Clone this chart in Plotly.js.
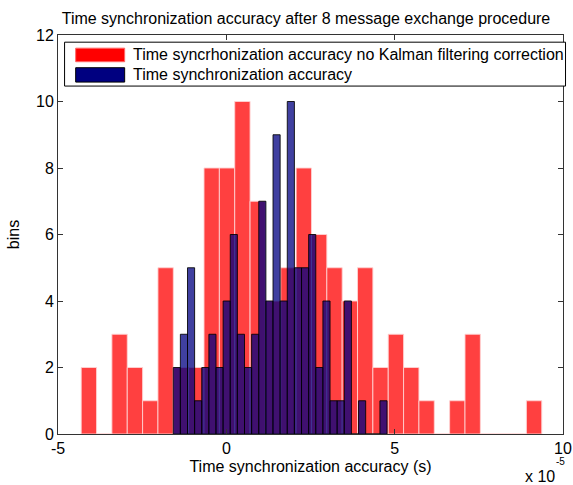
<!DOCTYPE html>
<html>
<head>
<meta charset="utf-8">
<script src="https://cdn.plot.ly/plotly-3.0.1.min.js"></script>
<style>html,body{margin:0;padding:0;background:#fff;}#chart{width:573px;height:485px;}</style>
</head>
<body>
<div id="chart"></div>
<script>
// Histogram counts (x in units of 1e-5 s)
var redCounts  = [2,0,3,2,1,5,2,2,8,8,10,7,4,5,8,6,5,4,5,2,3,2,1,0,1,3,0,0,0,1];
var blueCounts = [2,3,5,1,2,3,2,4,6,3,2,3,7,4,9,4,10,5,5,6,2,4,1,1,4,0,1,0,0,1];
var redStart = -4.311, redSize = 0.456;
var blueStart = -1.577, blueSize = 0.2117;
var xTicks = [-5, 0, 5, 10];
var yTicks = [0, 2, 4, 6, 8, 10, 12];
var redName = 'Time syncrhonization accuracy no Kalman filtering correction';
var blueName = 'Time synchronization accuracy';

function centers(start, size, n){ var a=[]; for(var i=0;i<n;i++) a.push(start+size*(i+0.5)); return a; }

var font = 'Arial, "Liberation Sans", sans-serif';
var traces = [
  {type:'bar', x:centers(redStart, redSize, redCounts.length), y:redCounts, width:redSize,
   marker:{color:'rgba(255,0,0,0.75)', line:{color:'rgba(255,210,210,0.9)', width:1}}, showlegend:false, hoverinfo:'skip'},
  {type:'bar', x:centers(blueStart, blueSize, blueCounts.length), y:blueCounts, width:blueSize,
   marker:{color:'rgba(0,0,128,0.75)', line:{color:'rgba(0,0,0,0.85)', width:1}}, showlegend:false, hoverinfo:'skip'}
];

var layout = {
  width:573, height:485,
  margin:{l:58, r:10, t:35, b:51},
  paper_bgcolor:'#fff', plot_bgcolor:'#fff',
  barmode:'overlay', bargap:0,
  font:{family:font, color:'#000', size:16},
  title:{text:'Time synchronization accuracy after 8 message exchange procedure', font:{size:16, family:font, color:'#000'}, x:0.534, xanchor:'center', y:0.962, yanchor:'middle'},
  xaxis:{range:[-5,10], tickvals:xTicks, ticktext:xTicks.map(String), ticks:'inside', ticklen:5, tickcolor:'#333',
         showline:true, linecolor:'#333', linewidth:1, mirror:'ticks', showgrid:false, zeroline:false,
         tickfont:{size:16}, title:{text:'Time synchronization accuracy (s)', font:{size:16}, standoff:4}},
  yaxis:{range:[0,12], tickvals:yTicks, ticks:'inside', ticklen:5, tickcolor:'#333',
         showline:true, linecolor:'#333', linewidth:1, mirror:'ticks', showgrid:false, zeroline:false,
         tickfont:{size:16}, title:{text:'bins', font:{size:16}, standoff:12}},
  shapes:[
    {type:'rect', xref:'paper', yref:'paper', x0:0.013, x1:1.005, y0:0.872, y1:0.982, line:{color:'#000', width:1}, fillcolor:'#fff', layer:'above'},
    {type:'rect', xref:'paper', yref:'paper', x0:0.035, x1:0.132, y0:0.933, y1:0.967, line:{color:'#ff6666', width:1}, fillcolor:'#ff0000', layer:'above'},
    {type:'rect', xref:'paper', yref:'paper', x0:0.035, x1:0.132, y0:0.882, y1:0.918, line:{color:'#000', width:1}, fillcolor:'#000080', layer:'above'}
  ],
  annotations:[
    {xref:'paper', yref:'paper', x:0.145, y:0.950, xanchor:'left', yanchor:'middle', text:redName, showarrow:false, font:{size:16}},
    {xref:'paper', yref:'paper', x:0.145, y:0.900, xanchor:'left', yanchor:'middle', text:blueName, showarrow:false, font:{size:16}},
    {xref:'paper', yref:'paper', x:0.954, y:-0.106, xanchor:'center', yanchor:'middle', text:'x 10', showarrow:false, font:{size:16}},
    {xref:'paper', yref:'paper', x:0.995, y:-0.068, xanchor:'center', yanchor:'middle', text:'-5', showarrow:false, font:{size:10}}
  ]
};
Plotly.newPlot('chart', traces, layout, {staticPlot:true});
</script>
</body>
</html>
